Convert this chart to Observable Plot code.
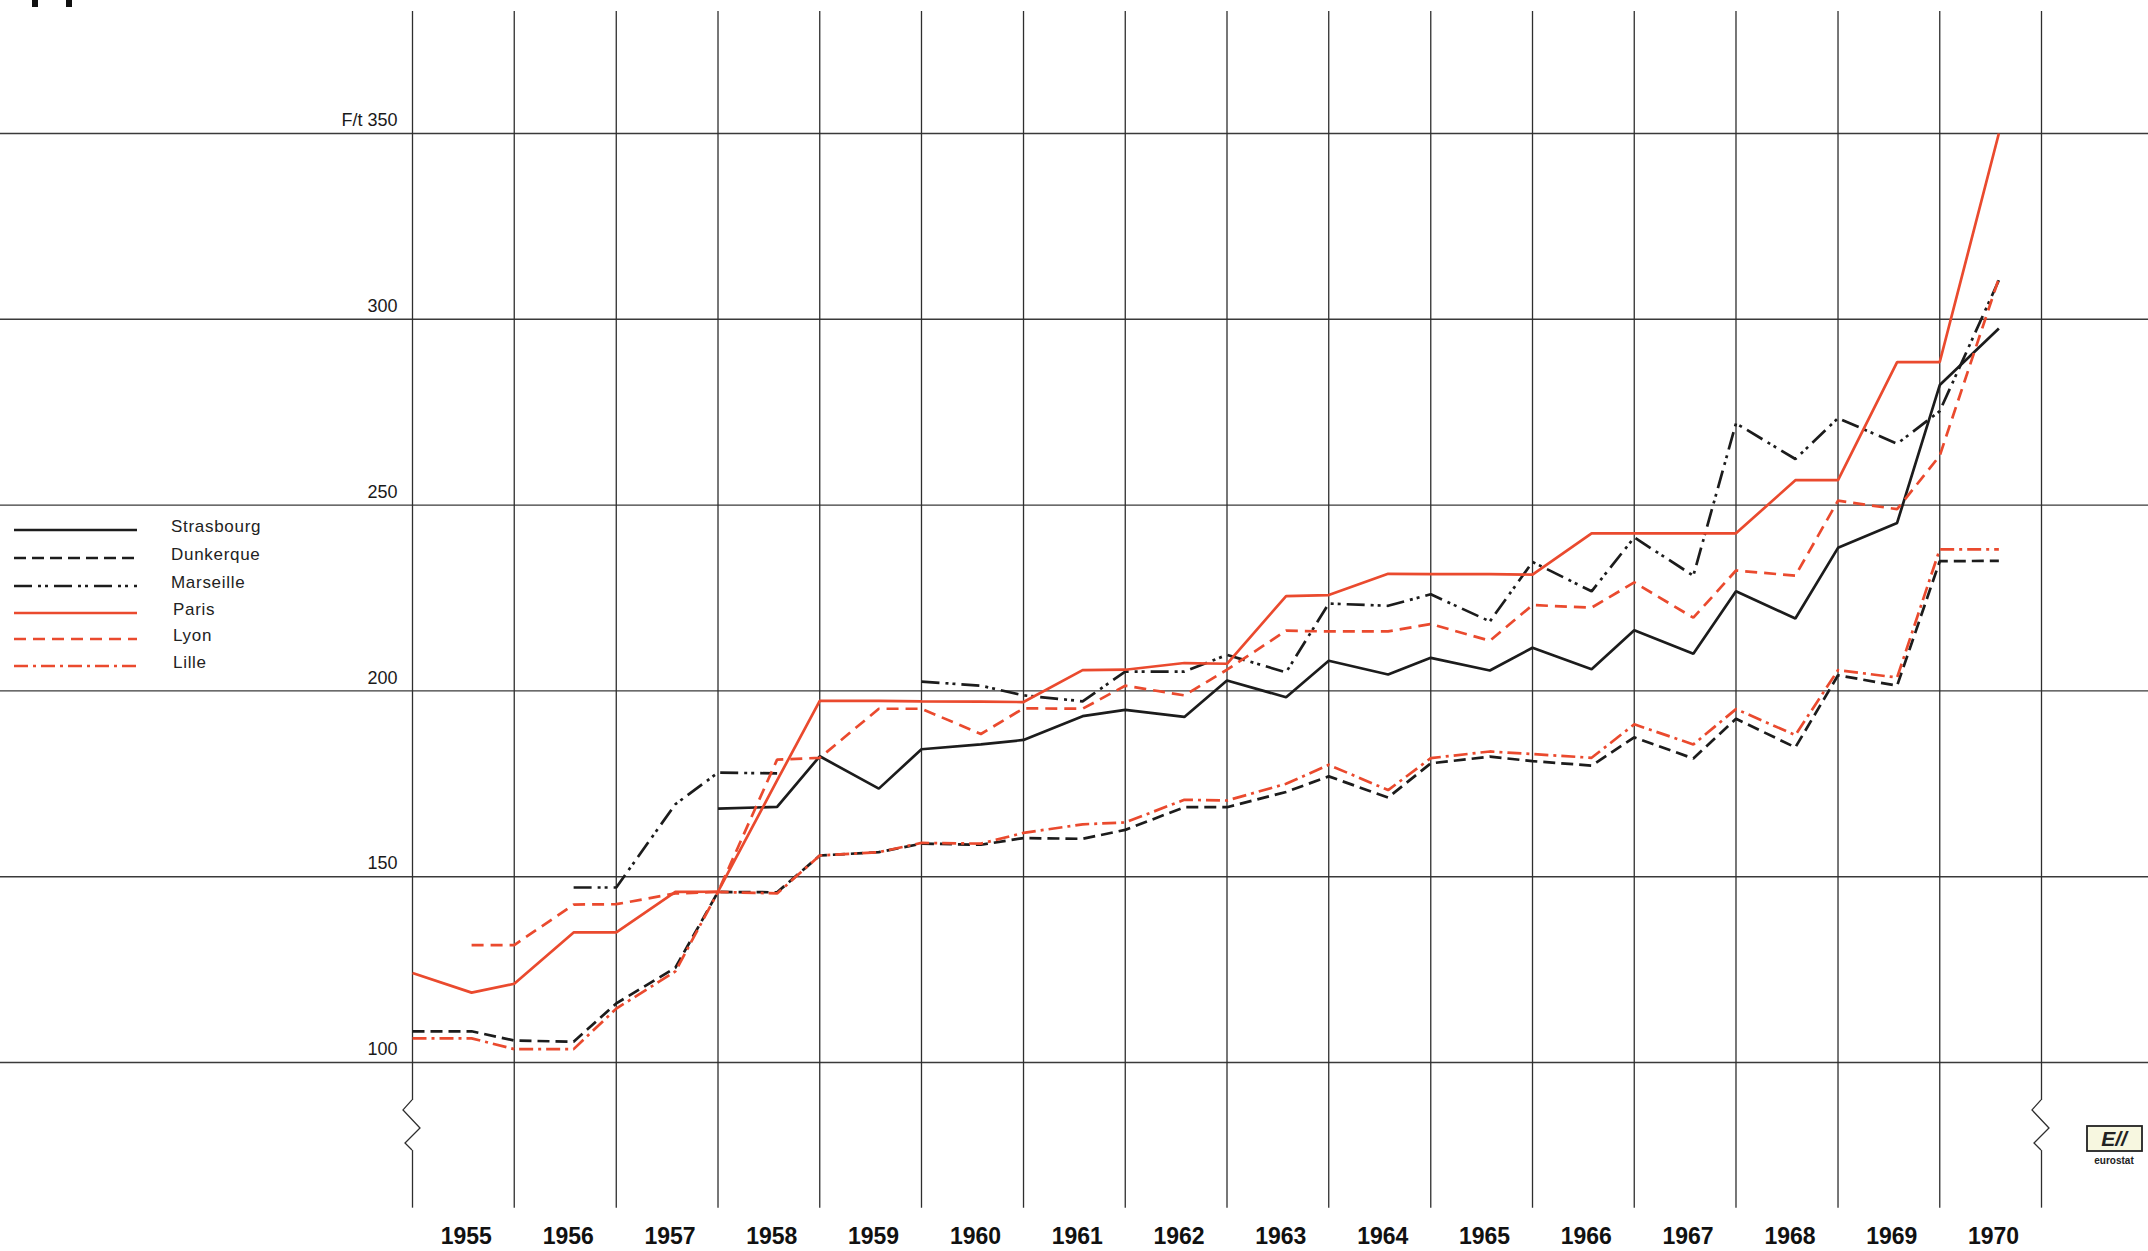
<!DOCTYPE html>
<html><head><meta charset="utf-8">
<script src="https://cdn.jsdelivr.net/npm/d3@7"></script>
<script src="https://cdn.jsdelivr.net/npm/@observablehq/plot@0.6"></script>
<style>
html,body{margin:0;padding:0;background:#ffffff;}
#chart{width:2148px;height:1251px;overflow:hidden;}
</style>
</head><body><div id="chart"></div>
<script>
// ---- data (semi-annual observations: January and August) ----
const periods = [
 "1955-01-01","1955-08-01","1956-01-01","1956-08-01","1957-01-01","1957-08-01","1958-01-01","1958-08-01",
 "1959-01-01","1959-08-01","1960-01-01","1960-08-01","1961-01-01","1961-08-01","1962-01-01","1962-08-01",
 "1963-01-01","1963-08-01","1964-01-01","1964-08-01","1965-01-01","1965-08-01","1966-01-01","1966-08-01",
 "1967-01-01","1967-08-01","1968-01-01","1968-08-01","1969-01-01","1969-08-01","1970-01-01","1970-08-01"];

const strasbourg = [null,null,null,null,null,null,168.3,168.8,
 182.4,173.7,184.3,185.6,186.8,193.2,194.9,193.0,
 202.8,198.3,208.1,204.4,208.9,205.5,211.6,205.8,
 216.3,210.0,226.8,219.5,238.5,245.2,282.3,297.5];

const dunkerque = [108.4,108.4,105.9,105.6,115.9,125.5,145.9,145.8,
 155.7,156.6,158.9,158.6,160.4,160.2,162.6,168.7,
 168.7,172.8,177.0,171.3,180.5,182.3,181.1,179.9,
 187.5,181.8,192.5,184.8,204.2,201.4,234.9,235.0];

const marseille = [null,null,null,147.1,147.1,169.5,178.0,177.8,
 null,null,202.5,201.4,198.8,197.2,205.2,205.2,
 209.7,205.0,223.5,222.9,226.0,218.7,234.7,226.8,
 241.3,231.0,272.0,262.4,273.4,266.5,275.3,310.5];

const paris = [124.1,118.8,121.2,135.0,135.0,145.9,146.0,175.9,
 197.3,197.3,197.2,197.1,197.0,205.6,205.7,207.5,
 207.3,225.5,225.8,231.5,231.4,231.4,231.3,242.4,
 242.4,242.4,242.4,256.7,256.7,288.5,288.5,350.0];

const lyon = [null,131.6,131.6,142.5,142.6,145.5,145.9,181.5,
 182.0,195.2,195.2,188.4,195.3,195.2,201.4,198.8,
 205.7,216.2,216.0,216.0,218.0,213.5,223.1,222.4,
 229.2,219.7,232.4,231.0,251.2,248.9,263.3,311.0];

const lille = [106.5,106.5,103.6,103.6,114.5,124.5,145.9,145.5,
 155.7,156.6,159.1,158.9,161.8,164.1,164.6,170.7,
 170.5,175.0,180.1,173.3,181.9,183.7,183.0,182.0,
 191.0,185.6,195.1,188.1,205.6,203.6,238.1,238.1];

const yTicks = [100,150,200,250,300,350];
const yTickLabels = ["100","150","200","250","300","F/t 350"];
const yearLabels = ["1955","1956","1957","1958","1959","1960","1961","1962",
 "1963","1964","1965","1966","1967","1968","1969","1970"];
const yearBounds = [1955,1956,1957,1958,1959,1960,1961,1962,1963,1964,1965,1966,1967,1968,1969,1970,1971];
const cityNames = ["Strasbourg","Dunkerque","Marseille","Paris","Lyon","Lille"];

// ---- styles ----
const RED = "#ea4a2e", BLK = "#1c1c1c";
const styles = [
  {values: strasbourg, stroke: BLK, dash: null},
  {values: dunkerque,  stroke: BLK, dash: "12,6"},
  {values: marseille,  stroke: BLK, dash: "18,6,3,4,3,6"},
  {values: paris,      stroke: RED, dash: null},
  {values: lyon,       stroke: RED, dash: "12,7"},
  {values: lille,      stroke: RED, dash: "14,5,3,5"}
];

const P = periods.map(d => new Date(d + "T00:00:00Z"));
const B = yearBounds.map(y => new Date(Date.UTC(y, 0, 1)));
const rows = vals => vals.map((v, i) => ({t: P[i], v}));
const FONT = "'Liberation Sans Narrow','Arial Narrow','Liberation Sans',Arial,sans-serif";

const lineMarks = styles.map(s => Plot.line(rows(s.values), {
  x: "t", y: "v", stroke: s.stroke, strokeWidth: 2.7,
  strokeDasharray: s.dash || undefined, strokeLinejoin: "miter", strokeLinecap: "butt"
}));

const plot = Plot.plot({
  width: 2148, height: 1251,
  marginLeft: 0, marginRight: 0, marginTop: 0, marginBottom: 0,
  style: {background: "#ffffff", fontFamily: FONT, overflow: "visible"},
  x: {type: "utc", domain: [B[0], B[B.length - 1]], range: [412, 2041], axis: null},
  y: {type: "linear", domain: [100, 350], range: [1062, 133], axis: null},
  marks: [
    Plot.ruleY(yTicks, {stroke: "#3a3a3a", strokeWidth: 1.4}),
    Plot.ruleX(B.slice(1, -1), {y1: () => 60.8, y2: () => 382.8, stroke: "#2e2e2e", strokeWidth: 1.3}),
    Plot.ruleX([B[0], B[B.length - 1]], {y1: () => 89.8, y2: () => 382.8, stroke: "#2e2e2e", strokeWidth: 1.3}),
    Plot.ruleX([B[0], B[B.length - 1]], {y1: () => 60.8, y2: () => 76.3, stroke: "#2e2e2e", strokeWidth: 1.3}),
    ...lineMarks,
    Plot.text(yTicks, {x: () => B[0], y: d => d, text: (d, i) => yTickLabels[i],
      dx: -15, dy: -13, textAnchor: "end", fontSize: 18, fill: "#1a1a1a"}),
    Plot.text(yearLabels, {x: d => new Date(Date.UTC(+d, 6, 2)), y: () => 53.2, text: d => d,
      dx: 3, fontSize: 23, fontWeight: "bold", fill: "#111"})
  ]
});

document.getElementById("chart").appendChild(plot);

// ---- decorations: axis break zigzags, legend, logo ----
const svg = d3.select(plot);
const xs = plot.scale("x"), ys = plot.scale("y");
[B[0], B[B.length - 1]].forEach(d => {
  const x0 = xs.apply(d);
  const yTop = ys.apply(89.8), yBot = ys.apply(76.3);
  const h = yBot - yTop;
  svg.append("path")
    .attr("d", `M${x0},${yTop} L${x0 - 9},${yTop + h * 0.2} L${x0 + 8},${yTop + h * 0.56} L${x0 - 7},${yTop + h * 0.86} L${x0},${yBot}`)
    .attr("fill", "none").attr("stroke", "#2e2e2e").attr("stroke-width", 1.3);
});

const legendY = [530, 558, 586, 613, 639, 666];
const leg = svg.append("g").attr("text-anchor", "start");
styles.forEach((s, i) => {
  leg.append("line").attr("x1", 14).attr("x2", 137).attr("y1", legendY[i]).attr("y2", legendY[i])
    .attr("stroke", s.stroke).attr("stroke-width", 2.6)
    .attr("stroke-dasharray", s.dash || null);
  leg.append("text").attr("x", i >= 3 ? 173 : 171).attr("y", legendY[i] - 2).attr("dominant-baseline", "middle")
    .attr("text-anchor", "start")
    .attr("font-size", 17).attr("letter-spacing", 0.7).attr("fill", "#222").attr("font-family", FONT)
    .text(cityNames[i]);
});

// eurostat mark
const logo = svg.append("g").attr("text-anchor", "middle");
logo.append("rect").attr("x", 2087).attr("y", 1126).attr("width", 55).attr("height", 25)
  .attr("fill", "#f7f7e0").attr("stroke", "#222").attr("stroke-width", 1.8);
logo.append("text").attr("x", 2114).attr("y", 1146).attr("text-anchor", "middle")
  .attr("font-size", 21).attr("font-weight", "bold").attr("font-style", "italic")
  .attr("fill", "#222").attr("font-family", FONT).text("E//");
logo.append("text").attr("x", 2114).attr("y", 1164).attr("text-anchor", "middle")
  .attr("font-size", 10).attr("font-weight", "bold").attr("fill", "#222").attr("font-family", FONT).text("eurostat");

// top-left page marks
svg.append("rect").attr("x", 32).attr("y", 0).attr("width", 6).attr("height", 7).attr("fill", "#111");
svg.append("rect").attr("x", 66).attr("y", 0).attr("width", 6).attr("height", 7).attr("fill", "#111");
</script>
</body></html>
